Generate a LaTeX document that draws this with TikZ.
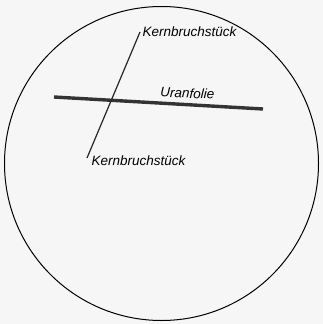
\documentclass[tikz,border=0pt]{standalone}
\usepackage{fontspec}
\setmainfont{Liberation Sans}
\begin{document}
\begin{tikzpicture}[x=1pt,y=-1pt,
  lbl/.style={font=\itshape\fontsize{13.5}{15}\selectfont, inner sep=0pt, anchor=base west},
  thin line/.style={line width=1.2pt, black!85},
  foil/.style={line width=3.4pt, black!80}]
\fill[gray!7] (0,0) rectangle (323,324);
\useasboundingbox (0,0) rectangle (323,324);
\node[draw, circle, line width=1pt, minimum size=314pt, inner sep=0pt] (c) at (161.5,163.5) {};
\coordinate (f1) at (54,97);
\coordinate (f2) at (263,109);
\draw[foil] (f1) -- (f2);
\coordinate (k1) at (140,32);
\coordinate (k2) at (87,158);
\draw[thin line] (k1) -- (k2);
\node[lbl] (t1) at (142.5,36.5) {Kernbruchstück};
\node[lbl, rotate=-3] (t2) at (160,96.5) {Uranfolie};
\node[lbl] (t3) at (91.5,165) {Kernbruchstück};
\end{tikzpicture}
\end{document}
